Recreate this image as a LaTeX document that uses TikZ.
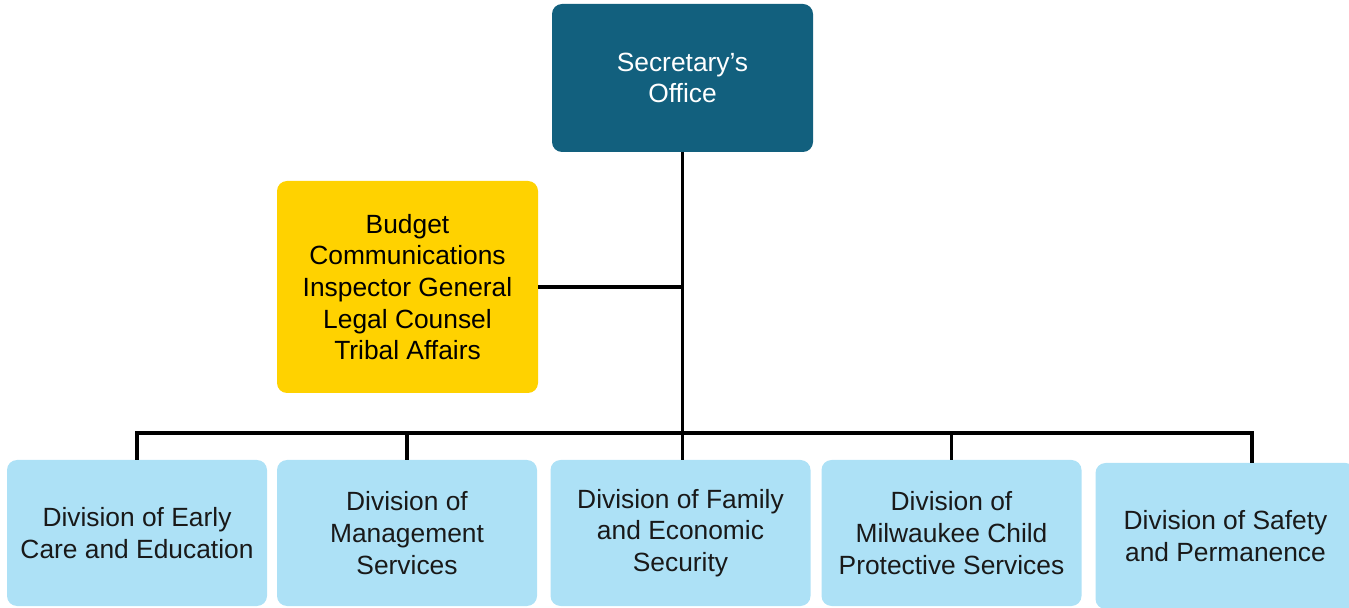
\documentclass[tikz,border=0pt]{standalone}
\usepackage{fontspec}
\setmainfont{Liberation Sans}
\usetikzlibrary{positioning, calc}

\definecolor{secblue}{RGB}{18,96,126}
\definecolor{staffgold}{RGB}{255,210,0}
\definecolor{divblue}{RGB}{173,225,246}

\begin{document}
\begin{tikzpicture}[node distance=0.22cm, line width=2pt,
    box/.style={rectangle, rounded corners=0.2cm, align=center, inner sep=0pt, outer sep=0pt,
      font=\fontsize{15}{18}\selectfont},
    office/.style={box, fill=secblue, text=white, minimum width=5.22cm, minimum height=2.96cm},
    staff/.style={box, fill=staffgold, minimum width=5.22cm, minimum height=4.24cm},
    division/.style={box, fill=divblue, text=black!90, minimum width=5.2cm, minimum height=2.92cm}]
      \useasboundingbox (0,0) rectangle (26.98,-12.16);

      % top of the tree and the staff offices
      \node[office] (sec) at (13.65,-1.56) {Secretary's\\Office};
      \node[staff] (staff) at (8.15,-5.74) {Budget\\Communications\\Inspector General\\Legal Counsel\\Tribal Affairs};

      % divisions
      \node[division] (dece) at (2.74,-10.66) {Division of Early\\Care and Education};
      \node[division] (dms) [right=0.2cm of dece] {Division of\\Management\\Services};
      \node[division] (dfes) [right=0.27cm of dms] {Division of Family\\and Economic\\Security};
      \node[division] (dmcps) [right=0.22cm of dfes] {Division of\\Milwaukee Child\\Protective Services};
      \node[division] (dsp) [right=0.28cm of dmcps, yshift=-0.06cm] {Division of Safety\\and Permanence};

      % connectors
      \coordinate (bus) at ($(dece.north)+(0,0.54)$);
      \coordinate (tap) at ($(dsp.north)+(0.53,0)$);
      \draw (dece.north) -- (bus) -- (bus -| tap) -- (tap);
      \foreach \d in {dms,dmcps}
        \draw (\d.north) -- (\d.north |- bus);
      \draw (sec.south) -- (sec.south |- dfes.north);
      \draw (staff.east) -- (staff.east -| sec.south);
    \end{tikzpicture}
\end{document}
